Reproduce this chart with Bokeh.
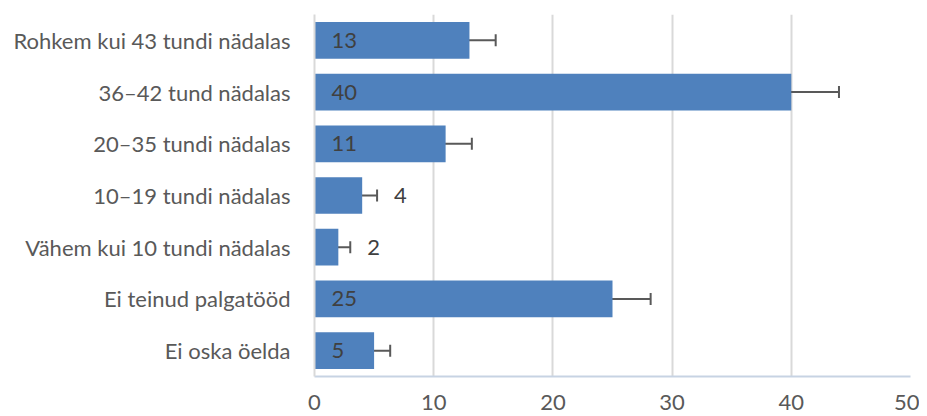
from bokeh.plotting import figure
from bokeh.models import ColumnDataSource, Whisker, TeeHead, FixedTicker, Range1d, FactorRange
from bokeh.core.properties import value
from bokeh.embed import file_html
from bokeh.resources import INLINE

categories = [
    "Rohkem kui 43 tundi nädalas",
    "36–42 tund nädalas",
    "20–35 tundi nädalas",
    "10–19 tundi nädalas",
    "Vähem kui 10 tundi nädalas",
    "Ei teinud palgatööd",
    "Ei oska öelda",
]
values = [13, 40, 11, 4, 2, 25, 5]
err_low = [10.8, 36.2, 8.9, 2.75, 0.95, 21.9, 3.65]
err_high = [15.2, 44.0, 13.2, 5.25, 3.0, 28.2, 6.35]
x_ticks = [0, 10, 20, 30, 40, 50]

FONT = "Lato"
BAR = "#4F81BD"

label_x = [0 if v >= 5 else hi for v, hi in zip(values, err_high)]
labels = [str(v) for v in values]

src = ColumnDataSource(dict(cat=categories, val=values, lo=err_low, hi=err_high,
                            lx=label_x, lab=labels))

p = figure(width=919, height=416, output_backend="svg", toolbar_location=None,
           y_range=FactorRange(*reversed(categories), range_padding=0),
           x_range=Range1d(0, 50),
           min_border_left=314, min_border_right=9, min_border_top=14, min_border_bottom=40)
p.outline_line_color = None
p.background_fill_color = "white"

p.hbar(y="cat", right="val", left=0, height=0.71, source=src,
       fill_color=BAR, line_color=None)

w = Whisker(base="cat", lower="lo", upper="hi", dimension="width", source=src,
            line_color="#595959", line_width=2,
            lower_head=TeeHead(size=12, line_color="#595959", line_width=2),
            upper_head=TeeHead(size=12, line_color="#595959", line_width=2))
p.add_layout(w)

p.text(x="lx", y="cat", text="lab", source=src, x_offset=17,
       text_align="left", text_baseline="middle",
       text_font=value(FONT), text_font_size="22px", text_color="#404040")

p.xaxis.ticker = FixedTicker(ticks=x_ticks)
p.xaxis.major_tick_line_color = None
p.xaxis.minor_tick_line_color = None
p.xaxis.axis_line_color = "#C7D3E3"
p.xaxis.axis_line_width = 2
p.xaxis.major_label_text_font = FONT
p.xaxis.major_label_text_font_size = "22px"
p.xaxis.major_label_text_color = "#595959"
p.xaxis.major_label_standoff = 12

p.yaxis.major_tick_line_color = None
p.yaxis.minor_tick_line_color = None
p.yaxis.axis_line_color = "#D9D9D9"
p.yaxis.axis_line_width = 2
p.yaxis.major_label_text_font = FONT
p.yaxis.major_label_text_font_size = "22px"
p.yaxis.major_label_text_color = "#595959"
p.yaxis.major_label_standoff = 18

p.ygrid.grid_line_color = None
p.xgrid.grid_line_color = "#D9D9D9"
p.xgrid.grid_line_width = 2

open("out.html", "w").write(file_html(p, INLINE))
